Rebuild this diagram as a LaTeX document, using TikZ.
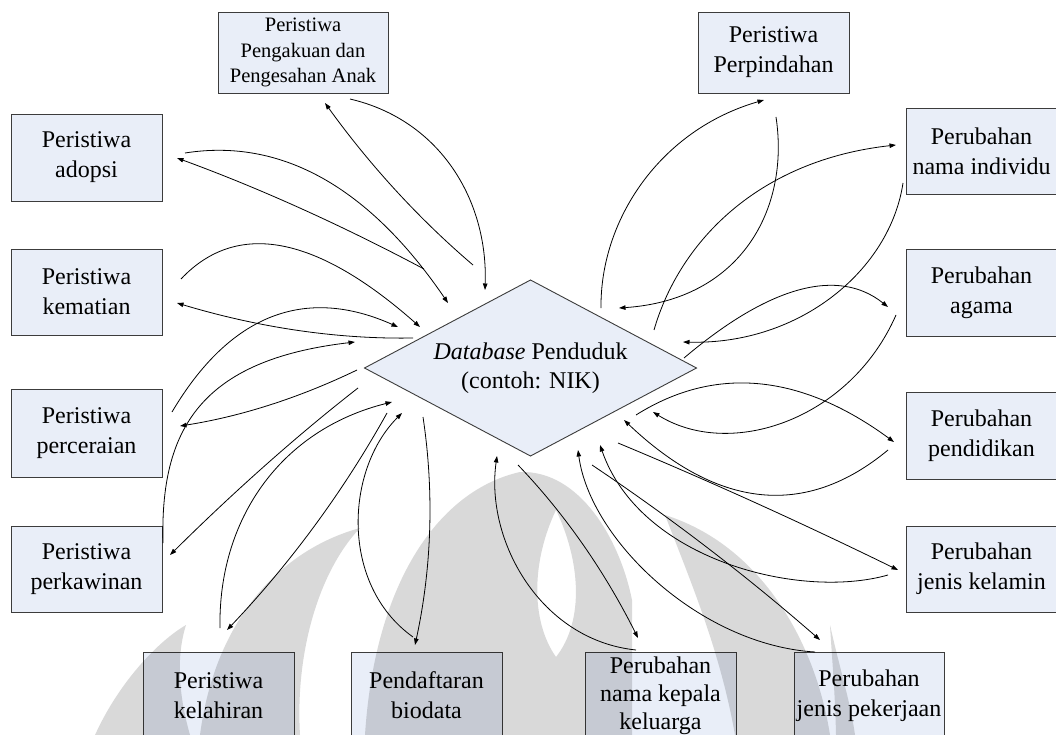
\documentclass[tikz,border=0pt]{standalone}
\usepackage{fontspec}
\setmainfont{Liberation Serif}
\usetikzlibrary{arrows.meta,calc}
\definecolor{boxfill}{RGB}{233,238,248}
\definecolor{boxline}{RGB}{60,60,60}
\tikzset{
  box/.style={draw=boxline, line width=0.9pt, fill=boxfill, align=center, inner sep=0pt,
    minimum width=151pt, minimum height=87pt, font=\fontsize{24}{30}\selectfont},
  conn/.style={line width=0.8pt, -{Triangle[length=6.5pt,width=4.5pt]}},
  wm/.style={fill=black, fill opacity=0.15, draw=none},
}
\newcommand\qlink[3]{\draw[conn] (#1) .. controls ($(#1)!0.6667!(#2)$) and ($(#3)!0.6667!(#2)$) .. (#3);}
\newcommand\clink[4]{\draw[conn] (#1) .. controls (#2) and (#3) .. (#4);}
\begin{document}
\begin{tikzpicture}[x=1pt,y=-1pt]
\useasboundingbox (0,0) rectangle (1056,735);
\fill[white] (0,0) rectangle (1056,735);

% central diamond
\coordinate (dbT) at (530.5,280);
\coordinate (dbR) at (696.5,368);
\coordinate (dbB) at (530.5,456);
\coordinate (dbL) at (364.5,368);
\draw[draw=boxline, line width=0.9pt, fill=boxfill] (dbT) -- (dbR) -- (dbB) -- (dbL) -- cycle;
\node[align=center, font=\fontsize{24}{29}\selectfont] (db) at (530.5,368) {\textit{Database} Penduduk\\(contoh: NIK)};

% boxes
\node[box, minimum width=170pt, minimum height=81pt, font=\fontsize{20.5}{25.7}\selectfont] (peng) at (303,52.5) {Peristiwa\\Pengakuan dan\\Pengesahan Anak};
\node[box] (ado) at (86.5,157.5) {Peristiwa\\adopsi};
\node[box, minimum height=86pt] (kem) at (86.5,292) {Peristiwa\\kematian};
\node[box, minimum height=88pt] (cer) at (86.5,433) {Peristiwa\\perceraian};
\node[box, minimum height=86pt] (kaw) at (86.5,569) {Peristiwa\\perkawinan};
\node[box] (lahir) at (218.5,695.5) {Peristiwa\\kelahiran};
\node[box] (daftar) at (426.5,695.5) {Pendaftaran\\biodata};
\node[box, font=\fontsize{24}{28}\selectfont] (kk) at (660.5,695.5) {Perubahan\\nama kepala\\keluarga};
\node[box, minimum width=150pt] (kerja) at (869,695.5) {Perubahan\\jenis pekerjaan};
\node[box, minimum height=81pt] (pindah) at (773.5,52.5) {Peristiwa\\Perpindahan};
\node[box, minimum height=86pt] (nama) at (981.5,151) {Perubahan\\nama individu};
\node[box] (agama) at (981.5,292.5) {Perubahan\\agama};
\node[box] (didik) at (981.5,435.5) {Perubahan\\pendidikan};
\node[box, minimum height=86pt] (kelamin) at (981.5,569) {Perubahan\\jenis kelamin};

% connector end points
\coordinate (peng-o) at (350,99);   \coordinate (db-peng-i) at (485,290);
\coordinate (db-peng-o) at (473,265); \coordinate (peng-i) at (325,103);
\coordinate (ado-o) at (185,153);   \coordinate (db-ado-i) at (448,303);
\coordinate (db-ado-o) at (424,269); \coordinate (ado-i) at (177,158);
\coordinate (kem-o) at (181,279);   \coordinate (db-kem-i) at (420,327);
\coordinate (db-kem-o) at (413,338); \coordinate (kem-i) at (177,303);
\coordinate (cer-o) at (172,412);   \coordinate (db-cer-i) at (398,327);
\coordinate (db-cer-o) at (357,370); \coordinate (cer-i) at (180,426);
\coordinate (kaw-o) at (163,543);   \coordinate (db-kaw-i) at (355,342);
\coordinate (db-kaw-o) at (358,388); \coordinate (kaw-i) at (170,555);
\coordinate (lahir-o) at (220,628); \coordinate (db-lahir-i) at (392,402);
\coordinate (db-lahir-o) at (387,413); \coordinate (lahir-i) at (227,630);
\coordinate (daftar-o) at (413,637); \coordinate (db-daftar-i) at (402,413);
\coordinate (db-daftar-o) at (423,417); \coordinate (daftar-i) at (415,645);
\coordinate (kk-o) at (636,650);    \coordinate (db-kk-i) at (497,456);
\coordinate (db-kk-o) at (518,465); \coordinate (kk-i) at (638,638);
\coordinate (kerja-o) at (815,652); \coordinate (db-kerja-i) at (578,450);
\coordinate (db-kerja-o) at (592,465); \coordinate (kerja-i) at (820,640);
\coordinate (kelamin-o) at (888,575); \coordinate (db-kelamin-i) at (600,445);
\coordinate (db-kelamin-o) at (618,443); \coordinate (kelamin-i) at (898,570);
\coordinate (didik-o) at (888,450); \coordinate (db-didik-i) at (624,420);
\coordinate (db-didik-o) at (636,415); \coordinate (didik-i) at (894,442);
\coordinate (agama-o) at (896,315); \coordinate (db-agama-i) at (653,412);
\coordinate (db-agama-o) at (684,358); \coordinate (agama-i) at (888,307);
\coordinate (nama-o) at (903,183);  \coordinate (db-nama-i) at (683,342);
\coordinate (db-nama-o) at (654,330); \coordinate (nama-i) at (896,145);
\coordinate (pindah-o) at (776,117); \coordinate (db-pindah-i) at (619,308);
\coordinate (db-pindah-o) at (601,308); \coordinate (pindah-i) at (764,100);

% connectors
\clink{peng-o}{440,120}{488,200}{db-peng-i}
\qlink{db-peng-o}{392,196}{peng-i}
\qlink{ado-o}{330,130}{db-ado-i}
\qlink{db-ado-o}{300,203}{ado-i}
\qlink{kem-o}{265,190}{db-kem-i}
\qlink{db-kem-o}{300,340}{kem-i}
\qlink{cer-o}{259,265}{db-cer-i}
\qlink{db-cer-o}{270,412}{cer-i}
\clink{kaw-o}{160,430}{200,360}{db-kaw-i}
\qlink{db-kaw-o}{268,458}{kaw-i}
\clink{lahir-o}{218,520}{280,430}{db-lahir-i}
\qlink{db-lahir-o}{322,530}{lahir-i}
\clink{daftar-o}{340,585}{345,470}{db-daftar-i}
\qlink{db-daftar-o}{440,530}{daftar-i}
\clink{kk-o}{540,640}{485,540}{db-kk-i}
\qlink{db-kk-o}{588,538}{kk-i}
\clink{kerja-o}{700,645}{590,540}{db-kerja-i}
\qlink{db-kerja-o}{710,544}{kerja-i}
\clink{kelamin-o}{800,600}{640,560}{db-kelamin-i}
\qlink{db-kelamin-o}{755,500}{kelamin-i}
\qlink{didik-o}{764,553}{db-didik-i}
\qlink{db-didik-o}{755,340}{didik-i}
\clink{agama-o}{850,420}{730,460}{db-agama-i}
\qlink{db-agama-o}{814,248}{agama-i}
\clink{nama-o}{890,270}{800,345}{db-nama-i}
\clink{db-nama-o}{680,240}{760,160}{nama-i}
\clink{pindah-o}{790,210}{740,300}{db-pindah-i}
\clink{db-pindah-o}{600,220}{660,130}{pindah-i}

% faint watermark (scan background)
\fill[wm] (95,735) .. controls (120,680) and (160,640) .. (186,625) .. controls (175,660) and (180,700) .. (190,735) -- cycle;
\fill[wm] (200,735) .. controls (215,620) and (280,550) .. (360,528) .. controls (320,570) and (295,650) .. (300,735) -- cycle;
\fill[wm, even odd rule] (365,735) .. controls (375,580) and (440,490) .. (520,472) .. controls (580,470) and (620,540) .. (632,600) -- (632,735) -- cycle
  (556,510) .. controls (580,560) and (585,620) .. (556,657) .. controls (530,620) and (532,560) .. (556,510) -- cycle;
\fill[wm] (665,515) .. controls (760,545) and (815,640) .. (830,735) -- (735,735) .. controls (720,650) and (690,580) .. (665,515) -- cycle;
\fill[wm] (830,625) .. controls (840,670) and (850,700) .. (855,735) -- (836,735) .. controls (835,690) and (832,660) .. (830,625) -- cycle;
\end{tikzpicture}
\end{document}
